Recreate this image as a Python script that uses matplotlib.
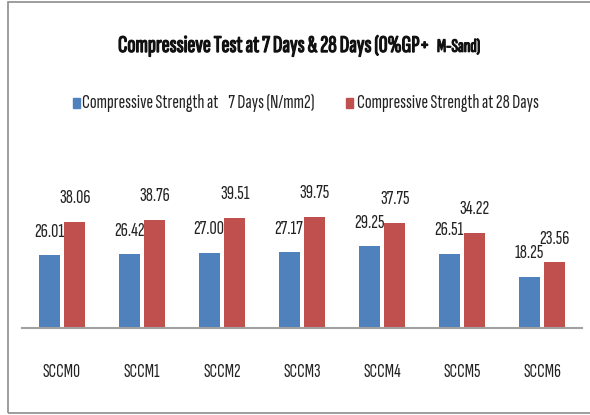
import matplotlib
matplotlib.use("Agg")
import matplotlib.pyplot as plt
import matplotlib.patheffects as pe
import numpy as np
from matplotlib.patches import Rectangle

categories = ["SCCM0", "SCCM1", "SCCM2", "SCCM3", "SCCM4", "SCCM5", "SCCM6"]
days7 = [26.01, 26.42, 27.00, 27.17, 29.25, 26.51, 18.25]
days28 = [38.06, 38.76, 39.51, 39.75, 37.75, 34.22, 23.56]
labels7 = ["26.01", "26.42", "27.00", "27.17", "29.25", "26.51", "18.25"]
labels28 = ["38.06", "38.76", "39.51", "39.75", "37.75", "34.22", "23.56"]
series_names = ["Compressive Strength at    7 Days (N/mm2)", "Compressive Strength at 28 Days"]
title_main = "Compressieve Test at 7 Days & 28 Days (0%GP+ "
title_tail = "M-Sand)"

FONT = ['Sofia Sans Extra Condensed', 'DejaVu Sans']
plt.rcParams['font.family'] = FONT
BLUE = "#4F81BD"
RED = "#C0504D"
TXT = "#222222"
W, H = 590, 415

fig = plt.figure(figsize=(5.9, 4.15), dpi=100)
renderer = fig.canvas.get_renderer()


def fit_size(s, target_px, weight="normal", family=None):
    t = fig.text(0, 0, s, fontsize=10, fontweight=weight, family=family or FONT)
    wpx = t.get_window_extent(renderer).width
    t.remove()
    return 10 * target_px / wpx


ax = fig.add_axes([22 / W, 1 - 328 / H, 560 / W, 139.5 / H])

x = np.arange(len(categories))
w = 0.2625
gap = 0.06
b1 = ax.bar(x - (w + gap) / 2, days7, w, color=BLUE)
b2 = ax.bar(x + (w + gap) / 2, days28, w, color=RED)

lab_fs = fit_size("26.01", 30)
for xi, v, t in zip(x - (w + gap) / 2, days7, labels7):
    ax.annotate(t, (xi, v), xytext=(0, 17), textcoords="offset points",
                ha="center", va="center", fontsize=lab_fs, color=TXT)
for xi, v, t in zip(x + (w + gap) / 2, days28, labels28):
    ax.annotate(t, (xi, v), xytext=(0, 17), textcoords="offset points",
                ha="center", va="center", fontsize=lab_fs, color=TXT)

ax.set_xlim(-0.5, len(categories) - 0.5)
ax.set_ylim(0, 50)
ax.set_yticks([])
ax.set_xticks(x)
tick_fs = fit_size("SCCM0", 38)
ax.set_xticklabels(categories, fontsize=tick_fs, color=TXT)
ax.tick_params(axis="x", length=0, pad=25)
for s in ["top", "right", "left"]:
    ax.spines[s].set_visible(False)
ax.spines["bottom"].set_color("#A0A0A0")
ax.spines["bottom"].set_linewidth(1.5)
ax.patch.set_alpha(0)

# Title (stroked to look bold)
bold_fx = [pe.withStroke(linewidth=0.9, foreground="#111111")]
t_fs = fit_size(title_main.rstrip(), 312)
fig.text(118 / W, 1 - 46 / H, title_main, fontsize=t_fs,
         ha="left", va="center", color="#111111", path_effects=bold_fx)
tail_fs = fit_size(title_tail, 43)
fig.text(437 / W, 1 - 47 / H, title_tail, fontsize=tail_fs,
         ha="left", va="center", color="#111111", path_effects=bold_fx)

# Legend (manual)
leg_fs = fit_size(series_names[0], 233)
leg_y = 1 - 103 / H
fig.patches.append(Rectangle((73 / W, leg_y - 5 / H), 7 / W, 10 / H,
                             transform=fig.transFigure, color=BLUE))
fig.text(82 / W, leg_y, series_names[0], fontsize=leg_fs,
         ha="left", va="center", color=TXT)
fig.patches.append(Rectangle((346 / W, leg_y - 5 / H), 7 / W, 10 / H,
                             transform=fig.transFigure, color=RED))
fig.text(357 / W, leg_y, series_names[1], fontsize=leg_fs,
         ha="left", va="center", color=TXT)

# border
fig.patches.append(Rectangle((7.5 / W, 2.5 / H), 1.2, 410 / H, transform=fig.transFigure,
                             fill=False, edgecolor="#8C8C8C", linewidth=1.2))

fig.savefig("out.png", dpi=100)
